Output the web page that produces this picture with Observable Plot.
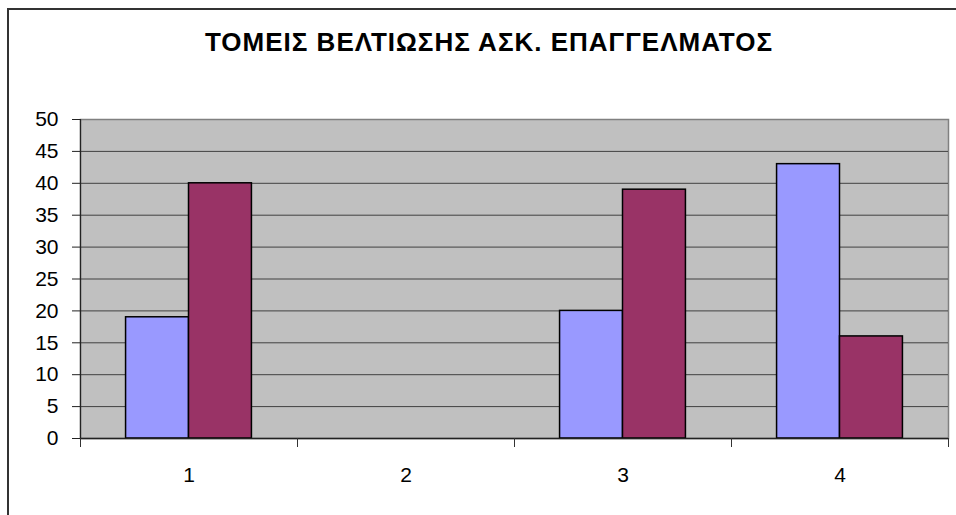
<!DOCTYPE html>
<html>
<head>
<meta charset="utf-8">
<script src="https://cdn.jsdelivr.net/npm/d3@7"></script>
<script src="https://cdn.jsdelivr.net/npm/@observablehq/plot@0.6"></script>
<style>
  html, body { margin: 0; padding: 0; background: #fff; overflow: hidden; }
  #wrap { position: relative; width: 956px; height: 515px; overflow: hidden; font-family: "Liberation Sans", Arial, sans-serif; }
  #frame { position: absolute; left: 7px; top: 8px; width: 1000px; height: 1000px; border-left: 2px solid #333; border-top: 2px solid #333; box-sizing: border-box; }
  #title { position: absolute; left: 9px; width: 960px; top: 27px; text-align: center; font-weight: bold; font-size: 26px; color: #000; letter-spacing: 1px; }
  #chart { position: absolute; left: 0; top: 0; }
</style>
</head>
<body>
<div id="wrap">
  <div id="chart"></div>
  <div id="frame"></div>
  <div id="title">ΤΟΜΕΙΣ ΒΕΛΤΙΩΣΗΣ ΑΣΚ. ΕΠΑΓΓΕΛΜΑΤΟΣ</div>
</div>
<script>
const categories = ["1", "2", "3", "4"];
const seriesA = [19, 0, 20, 43];
const seriesB = [40, 0, 39, 16];
const yTicks = [0, 5, 10, 15, 20, 25, 30, 35, 40, 45, 50];

const colorA = "#9999FF";
const colorB = "#993366";
const barW = 0.29; // width of one bar in category units

const bars = [];
categories.forEach((c, i) => {
  bars.push({cat: c, x1: i + 0.5 - barW, x2: i + 0.5, value: seriesA[i], fill: colorA});
  bars.push({cat: c, x1: i + 0.5, x2: i + 0.5 + barW, value: seriesB[i], fill: colorB});
});
const shown = bars.filter(d => d.value > 0);

const centers = categories.map((c, i) => i + 0.5);
const bounds = d3.range(categories.length + 1);

const chart = Plot.plot({
  width: 956,
  height: 515,
  marginLeft: 80,
  marginRight: 8,
  marginTop: 119,
  marginBottom: 77,
  style: {fontFamily: "'Liberation Sans', Arial, sans-serif", fontSize: "21px", color: "#000", background: "transparent"},
  x: {type: "linear", domain: [0, categories.length], axis: null},
  y: {domain: [0, 50], axis: null},
  marks: [
    Plot.frame({fill: "#C0C0C0", stroke: "#808080", strokeWidth: 1.5}),
    Plot.ruleY(yTicks.filter(t => t > 0 && t < 50), {stroke: "#404040", strokeWidth: 1}),
    Plot.rectY(shown, {x1: "x1", x2: "x2", y1: 0, y2: "value", fill: "fill", stroke: "#000", strokeWidth: 1.5}),
    Plot.ruleY([0], {stroke: "#222", strokeWidth: 1.5}),
    Plot.ruleX([0], {y1: 0, y2: 50, stroke: "#222", strokeWidth: 1.2}),
    Plot.axisY({ticks: yTicks, tickSize: 8, tickPadding: 14, fontSize: 21, stroke: "#222", label: null}),
    Plot.axisX({ticks: bounds, tickSize: 9, tickFormat: () => "", stroke: "#333", label: null}),
    Plot.axisX({ticks: centers, tickSize: 0, tickPadding: 29, fontSize: 21, tickFormat: v => categories[Math.floor(v)], label: null})
  ]
});
document.getElementById("chart").appendChild(chart);
</script>
</body>
</html>
